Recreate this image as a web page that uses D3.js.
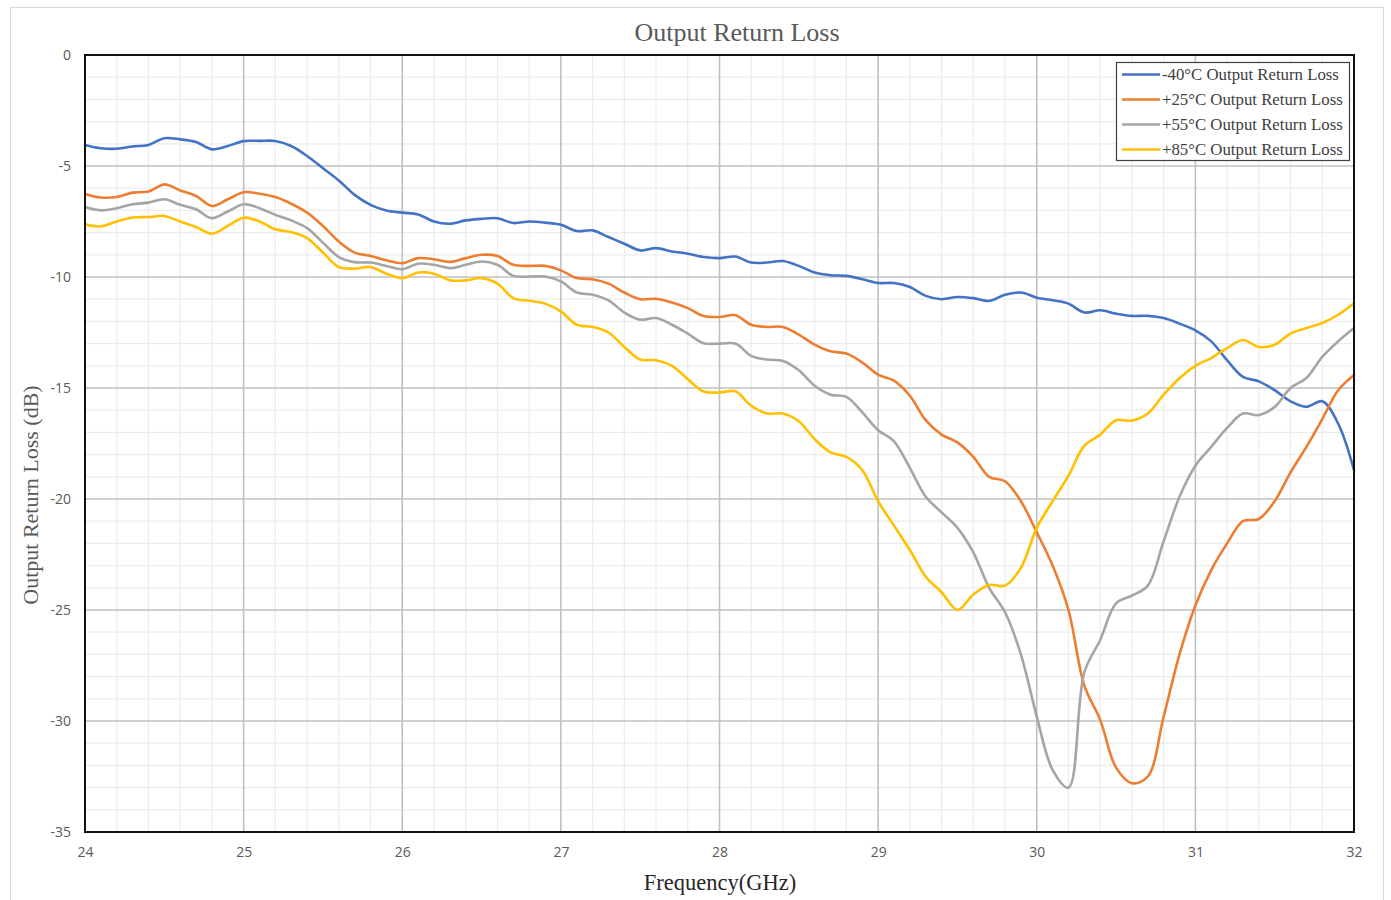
<!DOCTYPE html>
<html>
<head>
<meta charset="utf-8">
<script src="https://cdn.jsdelivr.net/npm/d3@7"></script>
<style>
  html, body { margin: 0; padding: 0; background: #fff; }
  svg { display: block; }
</style>
</head>
<body>
<svg id="chart" width="1391" height="900"></svg>
<script>
// Frequency sweep, 24–32 GHz in 0.1 GHz steps
const freqGHz = d3.range(0, 81).map(i => +(24 + i * 0.1).toFixed(1));

// Return loss (dB) at each frequency, one array per temperature
const lossM40 = [
  -4.05, -4.2, -4.22, -4.12, -4.05, -3.75, -3.8, -3.92, -4.25, -4.1,
  -3.88, -3.87, -3.87, -4.1, -4.55, -5.1, -5.65, -6.3, -6.75, -7.0,
  -7.1, -7.18, -7.5, -7.6, -7.45, -7.38, -7.35, -7.57, -7.5, -7.55,
  -7.65, -7.93, -7.9, -8.2, -8.5, -8.8, -8.7, -8.85, -8.95, -9.1,
  -9.15, -9.08, -9.35, -9.35, -9.28, -9.5, -9.8, -9.92, -9.95, -10.1,
  -10.27, -10.27, -10.45, -10.85, -11.0, -10.9, -10.95, -11.08, -10.8, -10.7,
  -10.93, -11.05, -11.2, -11.6, -11.5, -11.65, -11.75, -11.75, -11.85, -12.1,
  -12.4, -12.9, -13.75, -14.5, -14.7, -15.1, -15.6, -15.85, -15.6, -16.6,
  -18.7
];
const lossP25 = [
  -6.26, -6.42, -6.4, -6.2, -6.15, -5.83, -6.1, -6.35, -6.8, -6.5,
  -6.18, -6.25, -6.4, -6.7, -7.1, -7.7, -8.4, -8.9, -9.05, -9.25,
  -9.38, -9.15, -9.2, -9.32, -9.15, -9.0, -9.05, -9.45, -9.5, -9.5,
  -9.7, -10.05, -10.1, -10.3, -10.7, -11.0, -10.98, -11.15, -11.4, -11.76,
  -11.8, -11.72, -12.15, -12.25, -12.25, -12.6, -13.05, -13.35, -13.45, -13.85,
  -14.4, -14.67, -15.35, -16.45, -17.1, -17.45, -18.1, -19.0, -19.2, -20.1,
  -21.5, -23.0, -25.0, -28.4, -29.95, -32.1, -32.8, -32.5, -29.8, -27.0,
  -24.8, -23.2, -22.0, -21.0, -20.9, -20.1, -18.8, -17.65, -16.4, -15.1,
  -14.41
];
const lossP55 = [
  -6.85, -7.0, -6.9, -6.72, -6.65, -6.5, -6.75, -6.95, -7.35, -7.05,
  -6.72, -6.9, -7.2, -7.45, -7.8, -8.45, -9.1, -9.33, -9.35, -9.5,
  -9.65, -9.4, -9.45, -9.6, -9.45, -9.3, -9.45, -9.95, -9.98, -9.98,
  -10.2, -10.7, -10.8, -11.05, -11.6, -11.92, -11.85, -12.15, -12.55, -12.98,
  -13.0, -13.0, -13.55, -13.72, -13.78, -14.2, -14.9, -15.3, -15.4, -16.1,
  -16.9, -17.4, -18.6, -19.9, -20.6, -21.3, -22.4, -24.0, -25.1, -27.0,
  -29.8, -32.2, -33.0, -27.8, -26.35, -24.7, -24.35, -23.9, -21.9, -19.9,
  -18.5, -17.65, -16.8, -16.15, -16.22, -15.85, -15.0, -14.55, -13.6, -12.9,
  -12.3
];
const lossP85 = [
  -7.63, -7.72, -7.5, -7.32, -7.3, -7.25, -7.5, -7.75, -8.05, -7.7,
  -7.33, -7.5, -7.85, -7.98, -8.25, -8.9, -9.55, -9.62, -9.55, -9.85,
  -10.05, -9.8, -9.85, -10.15, -10.15, -10.05, -10.3, -10.95, -11.07, -11.2,
  -11.55, -12.15, -12.25, -12.5, -13.15, -13.72, -13.75, -14.0, -14.6, -15.16,
  -15.2, -15.15, -15.8, -16.15, -16.15, -16.5, -17.3, -17.9, -18.1, -18.7,
  -20.1, -21.2, -22.3, -23.5, -24.2, -25.0, -24.3, -23.87, -23.9, -23.1,
  -21.3, -20.1, -18.95, -17.6, -17.1, -16.45, -16.47, -16.15, -15.3, -14.56,
  -14.0, -13.65, -13.2, -12.84, -13.15, -13.05, -12.55, -12.3, -12.07, -11.7,
  -11.18
];

const seriesNames = [
  "-40°C Output Return Loss",
  "+25°C Output Return Loss",
  "+55°C Output Return Loss",
  "+85°C Output Return Loss"
];
const seriesColors = ["#4472C4", "#ED7D31", "#A5A5A5", "#FFC000"];
const seriesValues = [lossM40, lossP25, lossP55, lossP85];

const xTicks = d3.range(24, 33, 1);
const yTicks = d3.range(0, -36, -5);

const svg = d3.select("#chart");
const plot = { left: 85, right: 1354, top: 55, bottom: 832 };

const x = d3.scaleLinear().domain([24, 32]).range([plot.left, plot.right]);
const y = d3.scaleLinear().domain([-35, 0]).range([plot.bottom, plot.top]);

// Chart area outline
svg.append("rect")
  .attr("x", 10.5).attr("y", 7.5)
  .attr("width", 1373).attr("height", 900)
  .attr("fill", "#fff").attr("stroke", "#d9d9d9").attr("stroke-width", 1);

// Minor grid
const g = svg.append("g");
g.append("g").selectAll("line")
  .data(d3.range(24, 32.001, 0.2).filter(v => Math.abs(v - Math.round(v)) > 1e-6))
  .join("line")
  .attr("x1", d => x(d)).attr("x2", d => x(d))
  .attr("y1", plot.top).attr("y2", plot.bottom)
  .attr("stroke", "#ececec").attr("stroke-width", 1.2);
g.append("g").selectAll("line")
  .data(d3.range(-35, 0.001, 1).filter(v => v % 5 !== 0))
  .join("line")
  .attr("x1", plot.left).attr("x2", plot.right)
  .attr("y1", d => y(d)).attr("y2", d => y(d))
  .attr("stroke", "#ececec").attr("stroke-width", 1.2);

// Major grid
g.append("g").selectAll("line")
  .data(xTicks)
  .join("line")
  .attr("x1", d => x(d)).attr("x2", d => x(d))
  .attr("y1", plot.top).attr("y2", plot.bottom)
  .attr("stroke", "#c0c0c0").attr("stroke-width", 1.6);
g.append("g").selectAll("line")
  .data(yTicks)
  .join("line")
  .attr("x1", plot.left).attr("x2", plot.right)
  .attr("y1", d => y(d)).attr("y2", d => y(d))
  .attr("stroke", "#c0c0c0").attr("stroke-width", 1.6);

// Axes (labels only; the frame is drawn separately)
const xAxis = d3.axisBottom(x).tickValues(xTicks).tickSize(0).tickPadding(15).tickFormat(d => String(d));
const yAxis = d3.axisLeft(y).tickValues(yTicks).tickSize(0).tickPadding(14).tickFormat(d => String(d));

const gx = svg.append("g").attr("transform", `translate(0,${plot.bottom})`).call(xAxis);
const gy = svg.append("g").attr("transform", `translate(${plot.left},0)`).call(yAxis);
[gx, gy].forEach(a => {
  a.select(".domain").remove();
  a.selectAll("text")
    .attr("fill", "#595959")
    .style("font-family", "'Open Sans', 'Liberation Sans', sans-serif")
    .style("font-size", "14px");
});

// Data lines
const line = d3.line()
  .x((d, i) => x(freqGHz[i]))
  .y(d => y(d))
  .curve(d3.curveCatmullRom.alpha(0.5));

svg.append("g").selectAll("path")
  .data(seriesValues)
  .join("path")
  .attr("d", d => line(d))
  .attr("fill", "none")
  .attr("stroke", (d, i) => seriesColors[i])
  .attr("stroke-width", 2.6)
  .attr("stroke-linejoin", "round")
  .attr("stroke-linecap", "round");

// Plot frame
svg.append("rect")
  .attr("x", plot.left).attr("y", plot.top)
  .attr("width", plot.right - plot.left).attr("height", plot.bottom - plot.top)
  .attr("fill", "none").attr("stroke", "#111").attr("stroke-width", 2);

// Title
svg.append("text")
  .attr("x", 737).attr("y", 41)
  .attr("text-anchor", "middle")
  .attr("fill", "#595959")
  .style("font-family", "'Liberation Serif', serif")
  .style("font-size", "26px")
  .text("Output Return Loss");

// Axis titles
svg.append("text")
  .attr("x", 720).attr("y", 890)
  .attr("text-anchor", "middle")
  .attr("fill", "#262626")
  .style("font-family", "'Liberation Serif', serif")
  .style("font-size", "22.5px")
  .text("Frequency(GHz)");

svg.append("text")
  .attr("transform", "translate(38,495) rotate(-90)")
  .attr("text-anchor", "middle")
  .attr("fill", "#595959")
  .style("font-family", "'Liberation Serif', serif")
  .style("font-size", "22px")
  .text("Output Return Loss (dB)");

// Legend
const lg = svg.append("g").attr("transform", "translate(1116,62)");
lg.append("rect")
  .attr("x", 0.5).attr("y", 0.5).attr("width", 233).attr("height", 98)
  .attr("fill", "#fff").attr("stroke", "#404040").attr("stroke-width", 1.2);
const items = lg.selectAll("g.item")
  .data(seriesNames)
  .join("g")
  .attr("class", "item")
  .attr("transform", (d, i) => `translate(0,${12.5 + i * 25})`);
items.append("line")
  .attr("x1", 6).attr("x2", 44)
  .attr("y1", 0).attr("y2", 0)
  .attr("stroke", (d, i) => seriesColors[i])
  .attr("stroke-width", 2.6);
items.append("text")
  .attr("x", 46).attr("y", 5.5)
  .attr("fill", "#404040")
  .style("font-family", "'Liberation Serif', serif")
  .style("font-size", "16.8px")
  .text(d => d);
</script>
</body>
</html>
